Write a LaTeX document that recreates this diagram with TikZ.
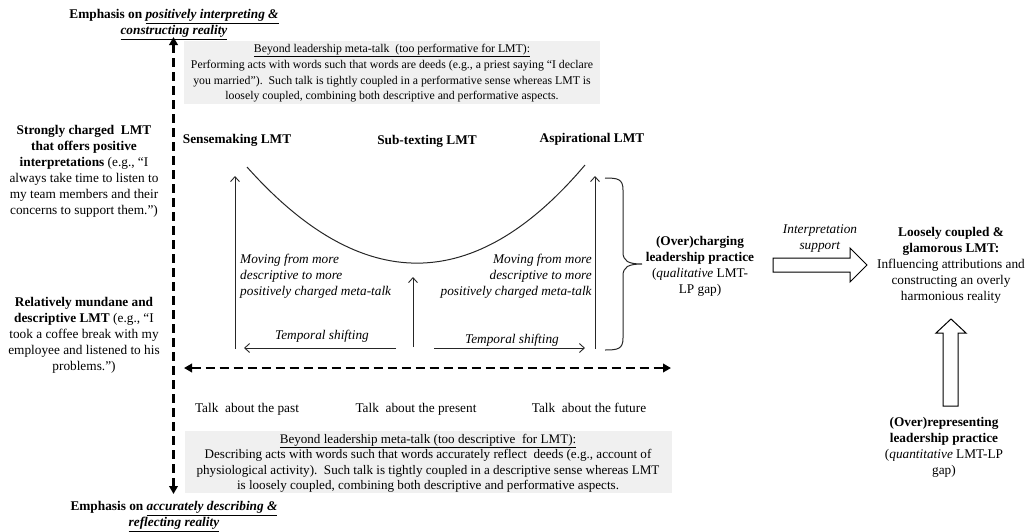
\documentclass[tikz,border=0pt]{standalone}
\usepackage{fontspec}
\setmainfont{Liberation Serif}
\usetikzlibrary{arrows.meta}
\definecolor{boxgray}{HTML}{F0F0F0}
\definecolor{linegray}{HTML}{262626}
\begin{document}
\begin{tikzpicture}[x=1pt,y=-1pt,
  font=\fontsize{13.3}{16}\selectfont,
  txt/.style={align=center,inner sep=0pt,anchor=north},
  boxtxt/.style={align=center,inner sep=0pt,anchor=north,font=\fontsize{11.8}{15.8}\selectfont},
  boxtxtb/.style={align=center,inner sep=0pt,anchor=north,font=\fontsize{13.1}{15.4}\selectfont},
  dasharrow/.style={line width=2.8pt,dash pattern=on 9pt off 5pt,{Triangle[length=8pt,width=8.5pt]}-{Triangle[length=8pt,width=8.5pt]}},
  thinarrow/.style={line width=0.9pt,linegray,-{Straight Barb[length=5pt,width=9pt]}},
  graybox/.style={fill=boxgray,draw=none},
  blockarrow/.style={draw=black,line width=1pt,fill=white,line join=miter}
]
\useasboundingbox (0,0) rectangle (1034,531);

% gray boxes
\fill[graybox] (184,41) rectangle (600,104);
\fill[graybox] (185,431) rectangle (672,493);

% axis labels
\node[txt] (toplab) at (174,9) {\textbf{Emphasis on \underline{\textit{positively interpreting \&}}}\\ \textbf{\underline{\textit{constructing reality}}}};
\node[txt] (botlab) at (174,501) {\textbf{Emphasis on \underline{\textit{accurately describing \&}}}\\ \textbf{\underline{\textit{reflecting reality}}}};

% box texts
\node[boxtxt] (topbox) at (392,44) {\underline{Beyond leadership meta-talk\ \ (too performative for LMT):}\\
Performing acts with words such that words are deeds (e.g., a priest saying “I declare\\
you married”).\ \ Such talk is tightly coupled in a performative sense whereas LMT is\\
loosely coupled, combining both descriptive and performative aspects.};
\node[boxtxtb] (botbox) at (428,434) {\underline{Beyond leadership meta-talk (too descriptive\ \ for LMT):}\\
Describing acts with words such that words accurately reflect\ \ deeds (e.g., account of\\
physiological activity).\ \ Such talk is tightly coupled in a descriptive sense whereas LMT\\
is loosely coupled, combining both descriptive and performative aspects.};

% left texts
\node[txt] (strong) at (84,125) {\textbf{Strongly charged\ \ LMT}\\ \textbf{that offers positive}\\ \textbf{interpretations} (e.g., “I\\ always take time to listen to\\ my team members and their\\ concerns to support them.”)};
\node[txt] (mundane) at (84,297) {\textbf{Relatively mundane and}\\ \textbf{descriptive LMT} (e.g., “I\\ took a coffee break with my\\ employee and listened to his\\ problems.”)};

% axes
\coordinate (vtop) at (173.5,37);
\coordinate (vbot) at (173.5,494);
\draw[dasharrow] (vbot) -- (vtop);
\coordinate (hleft) at (184,368);
\coordinate (hright) at (671,368);
\draw[dasharrow] (hleft) -- (hright);

% LMT types
\node[txt] (sense) at (237,134) {\textbf{Sensemaking LMT}};
\node[txt] (sub) at (427,135) {\textbf{Sub-texting LMT}};
\node[txt] (aspir) at (592,133) {\textbf{Aspirational LMT}};

% curve
\coordinate (c1) at (247,167);
\coordinate (c2) at (585,165);
\draw[line width=1pt,linegray] (c1) .. controls (362,296) and (475,295) .. (c2);

% vertical arrows
\coordinate (la0) at (235,349); \coordinate (la1) at (235,176);
\coordinate (ma0) at (413,347); \coordinate (ma1) at (413,277);
\coordinate (ra0) at (595,349); \coordinate (ra1) at (595,176);
\draw[thinarrow] (la0) -- (la1);
\draw[thinarrow] (ma0) -- (ma1);
\draw[thinarrow] (ra0) -- (ra1);

% temporal shifting
\coordinate (tl0) at (396,348); \coordinate (tl1) at (244,348);
\coordinate (tr0) at (434,348); \coordinate (tr1) at (585,348);
\draw[thinarrow] (tl0) -- (tl1);
\draw[thinarrow] (tr0) -- (tr1);
\node[txt] (tsl) at (322,330) {\textit{Temporal shifting}};
\node[txt] (tsr) at (512,334) {\textit{Temporal shifting}};

% moving texts
\node[align=left,inner sep=0pt,anchor=north west] (movl) at (240,254) {\textit{Moving from more}\\ \textit{descriptive to more}\\ \textit{positively charged meta-talk}};
\node[align=right,inner sep=0pt,anchor=north east] (movr) at (592,254) {\textit{Moving from more}\\ \textit{descriptive to more}\\ \textit{positively charged meta-talk}};

% talk labels
\node[txt] (past) at (247,403) {Talk~ about the past};
\node[txt] (present) at (416,403) {Talk~ about the present};
\node[txt] (future) at (589,403) {Talk~ about the future};

% brace
\coordinate (b0) at (605,178);
\coordinate (btip) at (642,264);
\coordinate (b1) at (605,350);
\draw[line width=1pt,linegray] (b0) .. controls (618,178) and (623,179) .. (623,190)
  -- (623,252) .. controls (623,261) and (628,264) .. (btip)
  .. controls (628,264) and (623,267) .. (623,276)
  -- (623,338) .. controls (623,349) and (618,350) .. (b1);

% overcharging
\node[txt] (overch) at (700,236) {\textbf{(Over)charging}\\ \textbf{leadership practice}\\ (\textit{qualitative} LMT-\\ LP gap)};

% block arrow right
\draw[blockarrow] (773,258) -- (850,258) -- (850,248) -- (867,265) -- (850,282) -- (850,272) -- (773,272) -- cycle;
\node[txt] (interp) at (820,224) {\textit{Interpretation}\\ \textit{support}};

% loosely coupled
\node[txt] (loose) at (951,227) {\textbf{Loosely coupled \&}\\ \textbf{glamorous LMT:}\\ Influencing attributions and\\ constructing an overly\\ harmonious reality};

% block arrow up
\draw[blockarrow] (943,406) -- (943,333) -- (936,333) -- (951,319) -- (966,333) -- (958,333) -- (958,406) -- cycle;

% overrepresenting
\node[txt] (overrep) at (944,417) {\textbf{(Over)representing}\\ \textbf{leadership practice}\\ (\textit{quantitative} LMT-LP\\ gap)};
\end{tikzpicture}
\end{document}
